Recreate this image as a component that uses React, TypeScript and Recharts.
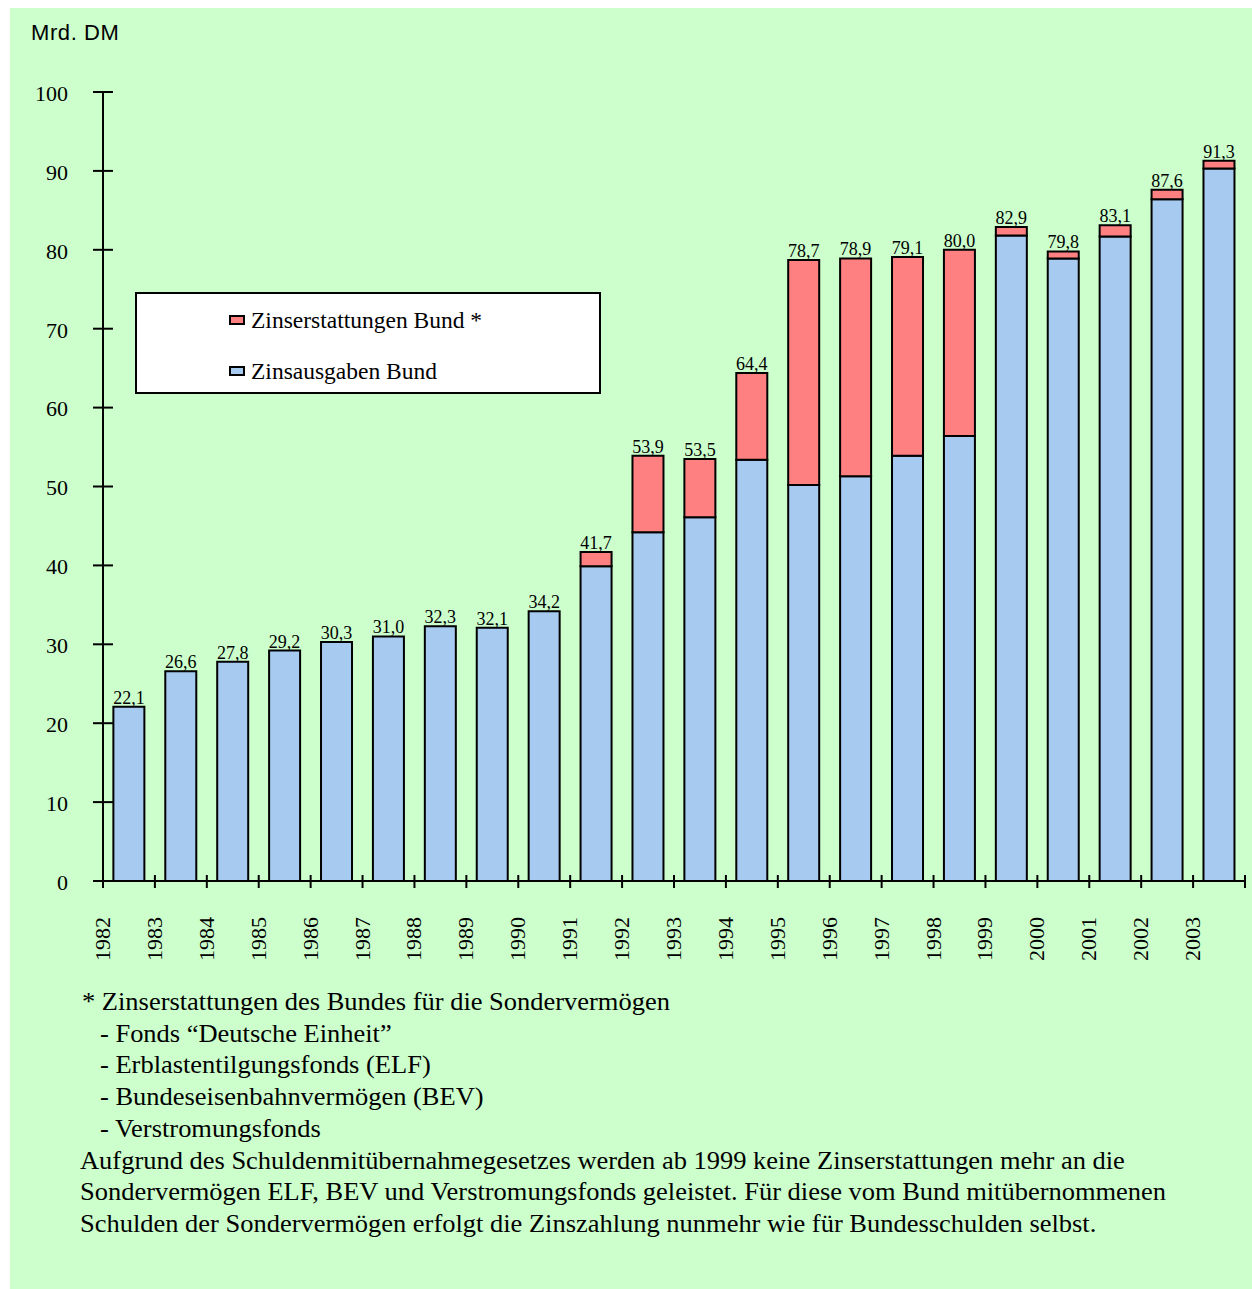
import React from 'react';
import { BarChart, Bar, XAxis, YAxis, LabelList, Legend } from 'recharts';

// Zinsausgaben des Bundes 1982–2003 (Mrd. DM)
const years = [
  '1982', '1983', '1984', '1985', '1986', '1987', '1988', '1989', '1990', '1991', '1992',
  '1993', '1994', '1995', '1996', '1997', '1998', '1999', '2000', '2001', '2002', '2003',
];

// Gesamtbetrag je Jahr (Beschriftung über den Säulen)
const totals = [
  22.1, 26.6, 27.8, 29.2, 30.3, 31.0, 32.3, 32.1, 34.2, 41.7, 53.9,
  53.5, 64.4, 78.7, 78.9, 79.1, 80.0, 82.9, 79.8, 83.1, 87.6, 91.3,
];

// Zinsausgaben Bund (unterer Säulenteil)
const zinsausgaben = [
  22.1, 26.6, 27.8, 29.2, 30.3, 31.0, 32.3, 32.1, 34.2, 39.9, 44.2,
  46.1, 53.4, 50.2, 51.3, 53.9, 56.4, 81.8, 78.9, 81.7, 86.4, 90.3,
];

const yTicks = [0, 10, 20, 30, 40, 50, 60, 70, 80, 90, 100];

const footnoteLines = [
  { text: '* Zinserstattungen des Bundes für die Sondervermögen', indent: 72 },
  { text: '- Fonds \u201cDeutsche Einheit\u201d', indent: 90 },
  { text: '- Erblastentilgungsfonds (ELF)', indent: 90 },
  { text: '- Bundeseisenbahnvermögen (BEV)', indent: 90 },
  { text: '- Verstromungsfonds', indent: 90 },
  { text: 'Aufgrund des Schuldenmitübernahmegesetzes werden ab 1999 keine Zinserstattungen mehr an die', indent: 70 },
  { text: 'Sondervermögen ELF, BEV und Verstromungsfonds geleistet. Für diese vom Bund mitübernommenen', indent: 70 },
  { text: 'Schulden der Sondervermögen erfolgt die Zinszahlung nunmehr wie für Bundesschulden selbst.', indent: 70 },
];

const data = years.map((year, i) => ({
  year,
  ausgaben: zinsausgaben[i],
  erstattungen: Math.round((totals[i] - zinsausgaben[i]) * 10) / 10,
  total: totals[i],
}));

const BLUE = '#A6CAF0';
const RED = '#FF8080';
const BG = '#CCFFCC';
const SERIF = '"Liberation Serif", "Times New Roman", serif';
const SANS = '"Liberation Sans", Arial, sans-serif';

const CHART_W = 1242;
const CHART_H = 1000;
const Y_AXIS_W = 93;
const MARGIN = { top: 84, right: 7, bottom: 0, left: 0 };
const BAND = (CHART_W - Y_AXIS_W - MARGIN.left - MARGIN.right) / years.length;

const fmt = (v: number) => v.toFixed(1).replace('.', ',');

const YTick = (props: any) => {
  const { x, y, payload } = props;
  return (
    <g>
      <line x1={x - 10} x2={x + 10} y1={y} y2={y} stroke="#000" strokeWidth={2} />
      <text x={x - 35} y={y} dy="0.4em" textAnchor="end" fontFamily={SERIF} fontSize={22} fill="#000">
        {payload.value}
      </text>
    </g>
  );
};

const XTick = (props: any) => {
  const { x, y, payload, index } = props;
  const bx = x - BAND / 2;
  const ex = x + BAND / 2;
  const ty = y + 36;
  const tx = bx + 7;
  return (
    <g>
      <line x1={bx} x2={bx} y1={y - 6} y2={y + 7} stroke="#000" strokeWidth={2} />
      {index === years.length - 1 && (
        <line x1={ex} x2={ex} y1={y - 6} y2={y + 7} stroke="#000" strokeWidth={2} />
      )}
      <text
        x={tx}
        y={ty}
        transform={`rotate(-90, ${tx}, ${ty})`}
        textAnchor="end"
        fontFamily={SERIF}
        fontSize={22}
        fill="#000"
      >
        {payload.value}
      </text>
    </g>
  );
};

const ValueText = ({ x, y, width, value }: any) => (
  <text x={x + width / 2} y={y - 3} textAnchor="middle" fontFamily={SERIF} fontSize={18} fill="#000">
    {fmt(Number(value))}
  </text>
);

// Label on top of the red segment (years with refunds)
const TopLabel = (props: any) => <ValueText {...props} />;

// Label on top of the blue segment, only for years without refunds
const BaseLabel = (props: any) => {
  const row = data[props.index];
  if (!row || row.erstattungen > 0) return null;
  return <ValueText {...props} />;
};

const LegendBox = (props: any) => {
  const items = [...(props.payload || [])].reverse();
  return (
    <div
      style={{
        width: 466,
        height: 102,
        boxSizing: 'border-box',
        background: '#fff',
        border: '2px solid #000',
        position: 'relative',
        fontFamily: SERIF,
        fontSize: 23.5,
      }}
    >
      {items.map((item: any, i: number) => (
        <div
          key={item.value}
          style={{
            position: 'absolute',
            left: 92,
            top: 11 + i * 51,
            display: 'flex',
            alignItems: 'center',
            height: 30,
            whiteSpace: 'nowrap',
          }}
        >
          <span
            style={{
              display: 'inline-block',
              width: 12,
              height: 6,
              background: item.color,
              border: '2px solid #000',
              marginRight: 6,
            }}
          />
          <span>{item.value}</span>
        </div>
      ))}
    </div>
  );
};

export default function App() {
  return (
    <div
      style={{
        position: 'absolute',
        left: 10,
        top: 8,
        width: 1242,
        height: 1281,
        background: BG,
      }}
    >
      <div
        style={{
          position: 'absolute',
          left: 21,
          top: 12,
          fontFamily: SANS,
          fontSize: 22,
          letterSpacing: 0.6,
          color: '#000',
        }}
      >
        Mrd. DM
      </div>
      <BarChart width={CHART_W} height={CHART_H} data={data} margin={MARGIN} barCategoryGap="20%">
        <YAxis
          width={Y_AXIS_W}
          domain={[0, 100]}
          ticks={yTicks}
          interval={0}
          tickSize={0}
          tickMargin={0}
          tickLine={false}
          axisLine={{ stroke: '#000', strokeWidth: 2 }}
          tick={<YTick />}
        />
        <XAxis
          dataKey="year"
          height={127}
          interval={0}
          tickSize={0}
          tickMargin={0}
          tickLine={false}
          axisLine={{ stroke: '#000', strokeWidth: 2 }}
          tick={<XTick />}
        />
        <Legend
          layout="horizontal"
          verticalAlign="middle"
          align="center"
          wrapperStyle={{ position: 'absolute', left: 125, top: 284, width: 466, height: 102 }}
          content={<LegendBox />}
        />
        <Bar
          dataKey="ausgaben"
          name="Zinsausgaben Bund"
          stackId="a"
          fill={BLUE}
          stroke="#000"
          strokeWidth={2}
          isAnimationActive={false}
        >
          <LabelList dataKey="total" content={<BaseLabel />} />
        </Bar>
        <Bar
          dataKey="erstattungen"
          name="Zinserstattungen Bund *"
          stackId="a"
          fill={RED}
          stroke="#000"
          strokeWidth={2}
          isAnimationActive={false}
        >
          <LabelList dataKey="total" content={<TopLabel />} />
        </Bar>
      </BarChart>
      <div
        style={{
          position: 'absolute',
          left: 0,
          top: 978,
          fontFamily: SERIF,
          fontSize: 24.5,
          lineHeight: '31.7px',
          color: '#000',
        }}
      >
        {footnoteLines.map((line, i) => (
          <div
            key={i}
            style={{
              marginLeft: line.indent,
              whiteSpace: 'pre',
              transform: 'scaleX(1.08)',
              transformOrigin: 'left center',
            }}
          >
            {line.text}
          </div>
        ))}
      </div>
    </div>
  );
}
